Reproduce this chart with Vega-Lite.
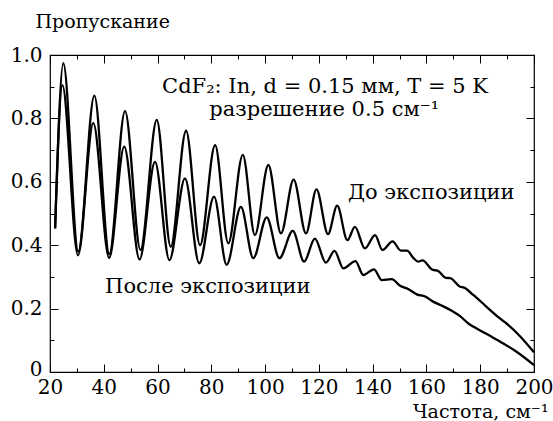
{
  "$schema": "https://vega.github.io/schema/vega-lite/v6.json",
  "width": 484,
  "height": 317,
  "autosize": {"type": "none"},
  "padding": {"left": 50, "top": 55, "right": 19, "bottom": 49},
  "background": "white",
  "config": {
    "view": {"stroke": "black", "strokeWidth": 1.2},
    "font": "DejaVu Serif"
  },
  "datasets": {
    "curves": [
      {"f": 21.9, "t": 0.453, "s": "before"},
      {"f": 24.95, "t": 0.974, "s": "before"},
      {"f": 30.5, "t": 0.38, "s": "before"},
      {"f": 36.5, "t": 0.872, "s": "before"},
      {"f": 42.05, "t": 0.372, "s": "before"},
      {"f": 47.9, "t": 0.823, "s": "before"},
      {"f": 53.65, "t": 0.385, "s": "before"},
      {"f": 59.7, "t": 0.795, "s": "before"},
      {"f": 64.9, "t": 0.395, "s": "before"},
      {"f": 70.6, "t": 0.761, "s": "before"},
      {"f": 75.8, "t": 0.4, "s": "before"},
      {"f": 81.4, "t": 0.716, "s": "before"},
      {"f": 86.3, "t": 0.406, "s": "before"},
      {"f": 91.7, "t": 0.685, "s": "before"},
      {"f": 96.2, "t": 0.432, "s": "before"},
      {"f": 101.2, "t": 0.653, "s": "before"},
      {"f": 105.9, "t": 0.437, "s": "before"},
      {"f": 110.6, "t": 0.607, "s": "before"},
      {"f": 115.2, "t": 0.437, "s": "before"},
      {"f": 119.1, "t": 0.576, "s": "before"},
      {"f": 123.4, "t": 0.435, "s": "before"},
      {"f": 126.8, "t": 0.525, "s": "before"},
      {"f": 130.6, "t": 0.416, "s": "before"},
      {"f": 133.4, "t": 0.458, "s": "before"},
      {"f": 137.1, "t": 0.39, "s": "before"},
      {"f": 140.9, "t": 0.432, "s": "before"},
      {"f": 143.6, "t": 0.385, "s": "before"},
      {"f": 147.4, "t": 0.412, "s": "before"},
      {"f": 150.5, "t": 0.383, "s": "before"},
      {"f": 152.8, "t": 0.383, "s": "before"},
      {"f": 155.1, "t": 0.36, "s": "before"},
      {"f": 156.9, "t": 0.348, "s": "before"},
      {"f": 158.5, "t": 0.352, "s": "before"},
      {"f": 162.4, "t": 0.322, "s": "before"},
      {"f": 164.1, "t": 0.32, "s": "before"},
      {"f": 167.3, "t": 0.297, "s": "before"},
      {"f": 168.8, "t": 0.296, "s": "before"},
      {"f": 172.5, "t": 0.269, "s": "before"},
      {"f": 174.0, "t": 0.266, "s": "before"},
      {"f": 177.4, "t": 0.243, "s": "before"},
      {"f": 180.5, "t": 0.22, "s": "before"},
      {"f": 183.6, "t": 0.196, "s": "before"},
      {"f": 186.7, "t": 0.173, "s": "before"},
      {"f": 189.8, "t": 0.153, "s": "before"},
      {"f": 194.8, "t": 0.113, "s": "before"},
      {"f": 200, "t": 0.062, "s": "before"},
      {"f": 21.9, "t": 0.453, "s": "after"},
      {"f": 24.6, "t": 0.905, "s": "after"},
      {"f": 30.4, "t": 0.368, "s": "after"},
      {"f": 36.1, "t": 0.785, "s": "after"},
      {"f": 42.0, "t": 0.36, "s": "after"},
      {"f": 47.6, "t": 0.711, "s": "after"},
      {"f": 53.3, "t": 0.355, "s": "after"},
      {"f": 59.05, "t": 0.663, "s": "after"},
      {"f": 64.4, "t": 0.353, "s": "after"},
      {"f": 70.2, "t": 0.611, "s": "after"},
      {"f": 75.5, "t": 0.343, "s": "after"},
      {"f": 81.0, "t": 0.553, "s": "after"},
      {"f": 85.7, "t": 0.338, "s": "after"},
      {"f": 91.0, "t": 0.521, "s": "after"},
      {"f": 95.6, "t": 0.359, "s": "after"},
      {"f": 100.6, "t": 0.488, "s": "after"},
      {"f": 105.3, "t": 0.359, "s": "after"},
      {"f": 110.3, "t": 0.445, "s": "after"},
      {"f": 114.5, "t": 0.348, "s": "after"},
      {"f": 118.5, "t": 0.421, "s": "after"},
      {"f": 122.6, "t": 0.345, "s": "after"},
      {"f": 125.8, "t": 0.382, "s": "after"},
      {"f": 129.1, "t": 0.327, "s": "after"},
      {"f": 133.6, "t": 0.35, "s": "after"},
      {"f": 136.5, "t": 0.306, "s": "after"},
      {"f": 140.5, "t": 0.324, "s": "after"},
      {"f": 143.4, "t": 0.29, "s": "after"},
      {"f": 147.1, "t": 0.293, "s": "after"},
      {"f": 150.2, "t": 0.272, "s": "after"},
      {"f": 153.2, "t": 0.262, "s": "after"},
      {"f": 156.4, "t": 0.245, "s": "after"},
      {"f": 159.5, "t": 0.238, "s": "after"},
      {"f": 162.5, "t": 0.222, "s": "after"},
      {"f": 166.3, "t": 0.207, "s": "after"},
      {"f": 169.4, "t": 0.193, "s": "after"},
      {"f": 172.5, "t": 0.176, "s": "after"},
      {"f": 175.6, "t": 0.153, "s": "after"},
      {"f": 178.7, "t": 0.137, "s": "after"},
      {"f": 183.6, "t": 0.114, "s": "after"},
      {"f": 188.6, "t": 0.09, "s": "after"},
      {"f": 193.5, "t": 0.064, "s": "after"},
      {"f": 200, "t": 0.022, "s": "after"}
    ],
    "labels": [
      {"f": 122.3, "t": 0.9, "txt": "CdF₂: In,  d = 0.15 мм,  T = 5 K"},
      {"f": 122.0, "t": 0.826, "txt": "разрешение 0.5 см⁻¹"}
    ],
    "leftlabels": [
      {"f": 130.8, "t": 0.565, "txt": "До экспозиции"},
      {"f": 40.5, "t": 0.268, "txt": "После экспозиции"}
    ]
  },
  "layer": [
    {
      "data": {"name": "curves"},
      "mark": {"type": "line", "interpolate": "monotone", "color": "black", "strokeWidth": 2.3},
      "encoding": {
        "x": {
          "field": "f", "type": "quantitative",
          "scale": {"domain": [20, 200], "nice": false, "zero": false},
          "axis": {
            "orient": "bottom",
            "values": [20,30,40,50,60,70,80,90,100,110,120,130,140,150,160,170,180,190,200],
            "tickSize": {"condition": {"test": "datum.value % 20 != 0", "value": -4}, "value": -8},
            "tickColor": "black", "tickWidth": 1,
            "domain": false, "grid": false,
            "labelExpr": "datum.value % 20 == 0 ? datum.label : ''",
            "labelFont": "DejaVu Serif", "labelFontSize": 20, "labelColor": "black",
            "labelPadding": 13, "labelFlush": false, "labelOverlap": false,
            "title": "Частота, см⁻¹",
            "titleFont": "DejaVu Serif", "titleFontSize": 19, "titleFontWeight": "normal", "titleColor": "black",
            "titleAlign": "right", "titleAnchor": null, "titleBaseline": "alphabetic",
            "titleX": 498, "titleY": 45
          }
        },
        "y": {
          "field": "t", "type": "quantitative",
          "scale": {"domain": [0, 1], "nice": false, "zero": false},
          "axis": {
            "orient": "left",
            "values": [0,0.1,0.2,0.3,0.4,0.5,0.6,0.7,0.8,0.9,1.0],
            "tickSize": {"condition": {"test": "round(datum.value*10) % 2 != 0", "value": -4}, "value": -8},
            "tickColor": "black", "tickWidth": 1,
            "domain": false, "grid": false,
            "labelExpr": "round(datum.value*10) % 2 == 0 ? (datum.value == 0 ? '0' : format(datum.value, '.1f')) : ''",
            "labelFont": "DejaVu Serif", "labelFontSize": 20, "labelColor": "black",
            "labelOffset": {"condition": {"test": "datum.value == 0", "value": -3}, "value": 0},
            "labelPadding": 16, "labelFlush": false, "labelOverlap": false,
            "title": "Пропускание",
            "titleFont": "DejaVu Serif", "titleFontSize": 19, "titleFontWeight": "normal", "titleColor": "black",
            "titleAngle": 0, "titleAlign": "left", "titleAnchor": null, "titleBaseline": "alphabetic",
            "titleX": -15, "titleY": -28
          }
        },
        "detail": {"field": "s", "type": "nominal"}
      }
    },
    {
      "data": {"name": "labels"},
      "mark": {"type": "text", "font": "DejaVu Serif", "fontSize": 21, "color": "black", "align": "center", "baseline": "middle"},
      "encoding": {
        "x": {"field": "f", "type": "quantitative", "axis": null},
        "y": {"field": "t", "type": "quantitative", "axis": null},
        "text": {"field": "txt"}
      }
    },
    {
      "data": {"name": "leftlabels"},
      "mark": {"type": "text", "font": "DejaVu Serif", "fontSize": 21, "color": "black", "align": "left", "baseline": "middle"},
      "encoding": {
        "x": {"field": "f", "type": "quantitative", "axis": null},
        "y": {"field": "t", "type": "quantitative", "axis": null},
        "text": {"field": "txt"}
      }
    },
    {
      "data": {"name": "curves"},
      "mark": {"type": "point", "opacity": 0},
      "encoding": {
        "x": {
          "field": "f", "type": "quantitative",
          "axis": {
            "orient": "top",
            "values": [20,30,40,50,60,70,80,90,100,110,120,130,140,150,160,170,180,190,200],
            "tickSize": {"condition": {"test": "datum.value % 20 != 0", "value": -4}, "value": -8},
            "tickColor": "black", "tickWidth": 1,
            "domain": false, "grid": false, "labels": false, "title": null
          }
        },
        "y": {
          "field": "t", "type": "quantitative",
          "axis": {
            "orient": "right",
            "values": [0,0.1,0.2,0.3,0.4,0.5,0.6,0.7,0.8,0.9,1.0],
            "tickSize": {"condition": {"test": "round(datum.value*10) % 2 != 0", "value": -4}, "value": -8},
            "tickColor": "black", "tickWidth": 1,
            "domain": false, "grid": false, "labels": false, "title": null
          }
        }
      }
    }
  ],
  "resolve": {"axis": {"x": "independent", "y": "independent"}}
}
